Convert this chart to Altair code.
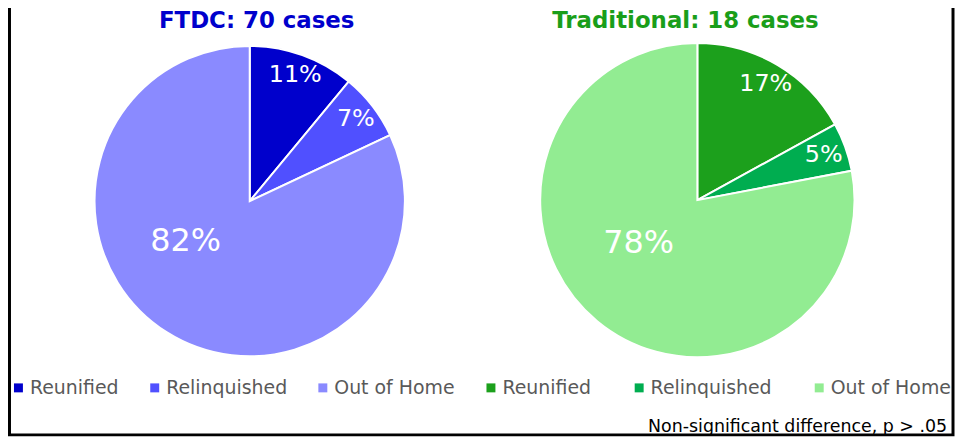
import altair as alt
import pandas as pd

# ---- data ----
outcomes = ["Reunified", "Relinquished", "Out of Home"]
ftdc_pct = [11, 7, 82]
trad_pct = [17, 5, 78]
ftdc_colors = ["#0000CC", "#5050FF", "#8A8AFF"]
trad_colors = ["#1CA01C", "#00AD50", "#92EC92"]
titles = ["FTDC: 70 cases", "Traditional: 18 cases"]
title_colors = ["#0000CC", "#1A9E1A"]
footnote = "Non-significant difference, p > .05"

FONT = "DejaVu Sans"
W, H = 952, 430


def make_df(pcts):
    return pd.DataFrame({"outcome": outcomes, "pct": pcts, "idx": list(range(len(outcomes)))})


theta_scale = alt.Scale(domain=[0, 100])


def pie(df, colors, cx, cy, r, legend_x, col_pad, big_offset, big_r):
    base = alt.Chart(df)
    arcs = base.mark_arc(outerRadius=r, stroke="white", strokeWidth=2).encode(
        theta=alt.Theta("pct:Q", stack=True, scale=theta_scale),
        order=alt.Order("idx:Q"),
        color=alt.Color(
            "outcome:N",
            scale=alt.Scale(domain=outcomes, range=colors),
            sort=outcomes,
            legend=alt.Legend(
                orient="none",
                legendX=legend_x,
                legendY=371,
                direction="horizontal",
                title=None,
                symbolType="square",
                symbolSize=81,
                symbolStrokeWidth=0,
                labelFont=FONT,
                labelFontSize=19,
                labelColor="#595959",
                labelOffset=2,
                columnPadding=col_pad,
                padding=0,
                labelLimit=300,
            ),
        ),
        x=alt.value(cx),
        y=alt.value(cy),
    )
    lab = base.transform_window(
        cum="sum(pct)", sort=[alt.SortField("idx")]
    ).transform_calculate(mid="datum.cum - datum.pct/2", label="datum.pct + '%'")
    small = lab.transform_filter("datum.idx < 2").mark_text(
        radius=135, fontSize=24, color="white", font=FONT, baseline="middle", align="center"
    ).encode(
        theta=alt.Theta("mid:Q", stack=False, scale=theta_scale),
        text="label:N",
        x=alt.value(cx),
        y=alt.value(cy),
    )
    big = lab.transform_filter("datum.idx == 2").transform_calculate(
        pos=f"datum.mid + {big_offset}"
    ).mark_text(
        radius=big_r, fontSize=32, color="white", font=FONT, baseline="middle", align="center"
    ).encode(
        theta=alt.Theta("pos:Q", stack=False, scale=theta_scale),
        text="label:N",
        x=alt.value(cx),
        y=alt.value(cy),
    )
    return alt.layer(arcs, small, big)


one = alt.Data(values=[{}])

pie1 = pie(make_df(ftdc_pct), ftdc_colors, 243, 193, 156, 1, 26, 7.1, 76)
pie2 = pie(make_df(trad_pct), trad_colors, 693, 192, 158, 476, 38, 4.0, 73)

title1 = alt.Chart(one).mark_text(
    text=titles[0], font=FONT, fontSize=23, fontWeight="bold", color=title_colors[0],
    align="center", baseline="middle",
).encode(x=alt.value(250), y=alt.value(12))
title2 = alt.Chart(one).mark_text(
    text=titles[1], font=FONT, fontSize=23, fontWeight="bold", color=title_colors[1],
    align="center", baseline="middle",
).encode(x=alt.value(681), y=alt.value(12))

foot = alt.Chart(one).mark_text(
    text=footnote, font=FONT, fontSize=17.5, color="black", align="right", baseline="middle",
).encode(x=alt.value(944), y=alt.value(420))

border = alt.Chart(one).mark_rect(filled=False, stroke="black", strokeWidth=3).encode(
    x=alt.value(1.5), x2=alt.value(W - 2), y=alt.value(-10), y2=alt.value(H - 2)
)

chart = alt.layer(pie1, pie2, title1, title2, foot, border).resolve_scale(
    color="independent"
).properties(
    width=W, height=H, autosize=alt.AutoSizeParams(type="none"), padding=0, background="white"
).configure_view(strokeWidth=0)

chart.save("out.html", embed_options={"renderer": "svg", "actions": False})
